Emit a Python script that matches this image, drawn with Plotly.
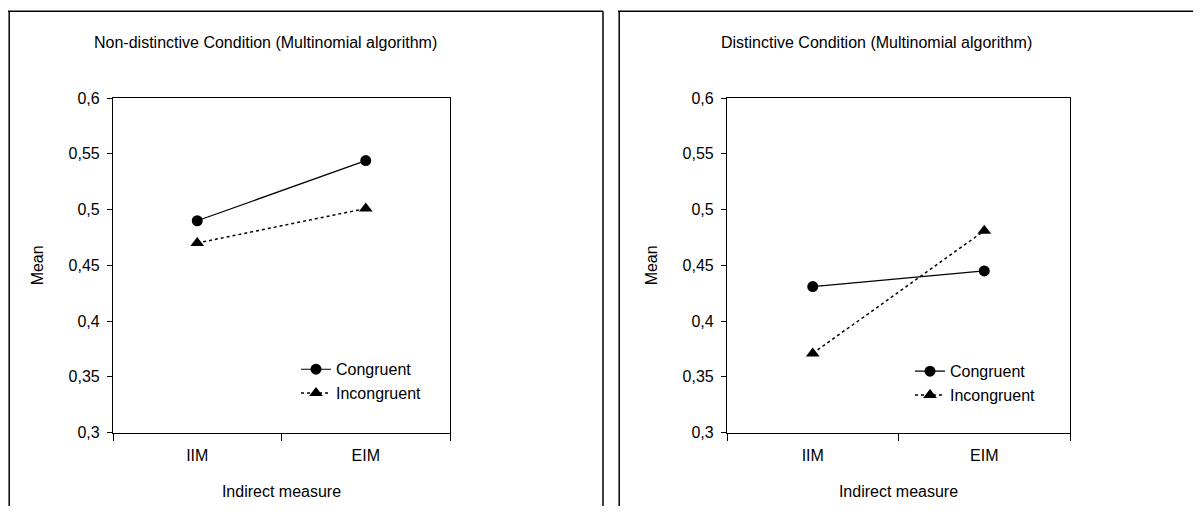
import plotly.graph_objects as go

categories = ["IIM", "EIM"]
nondistinct_congruent = [0.490, 0.544]
nondistinct_incongruent = [0.470, 0.501]
distinct_congruent = [0.431, 0.445]
distinct_incongruent = [0.371, 0.481]
y_tickvals = [0.3, 0.35, 0.4, 0.45, 0.5, 0.55, 0.6]
y_ticktext = ["0,3", "0,35", "0,4", "0,45", "0,5", "0,55", "0,6"]
titles = ["Non-distinctive Condition (Multinomial algorithm)",
          "Distinctive Condition (Multinomial algorithm)"]

OFF = 8                      # default page body margin
W, H = 1201 - OFF, 515 - OFF
FONT = "Liberation Sans, Arial, sans-serif"


def px(x):                   # page pixel -> paper fraction
    return (x - OFF) / W


def py(y):
    return 1 - (y - OFF) / H


fig = go.Figure()

panels = [
    dict(xa="x", ya="y", leg="legend", c=nondistinct_congruent, i=nondistinct_incongruent),
    dict(xa="x2", ya="y2", leg="legend2", c=distinct_congruent, i=distinct_incongruent),
]
for p in panels:
    fig.add_trace(go.Scatter(
        x=categories, y=p["c"], name="Congruent", mode="lines+markers",
        line=dict(color="black", width=1.2, dash="solid"),
        marker=dict(symbol="circle", size=11, color="black"),
        xaxis=p["xa"], yaxis=p["ya"], legend=p["leg"]))
    fig.add_trace(go.Scatter(
        x=categories, y=p["i"], name="Incongruent", mode="lines+markers",
        line=dict(color="black", width=1.5, dash="dot"),
        marker=dict(symbol="triangle-up", size=12, color="black"),
        xaxis=p["xa"], yaxis=p["ya"], legend=p["leg"]))

L = dict(x0=113, x1=450)
R = dict(x0=727, x1=1070)
Y0, Y1 = 93, 439

xcommon = dict(type="category", tickson="boundaries", ticks="outside", ticklen=7,
               tickcolor="black", showline=True, linecolor="black", linewidth=1.2,
               mirror=True, showgrid=False, zeroline=False, range=[-0.5, 1.5],
               ticklabelstandoff=8,
               tickfont=dict(family=FONT, size=16, color="black"),
               title=dict(text="Indirect measure", font=dict(family=FONT, size=16, color="black"), standoff=22))
ycommon = dict(range=[0.3, 0.6], tickvals=y_tickvals, ticktext=y_ticktext, ticks="outside",
               ticklen=5, tickcolor="black", showline=True, linecolor="black", linewidth=1.2,
               mirror=True, showgrid=False, zeroline=False, ticklabelstandoff=4,
               tickfont=dict(family=FONT, size=16, color="black"),
               title=dict(text="Mean", font=dict(family=FONT, size=16, color="black"), standoff=20))

legfont = dict(family=FONT, size=16, color="black")
fig.update_layout(
    width=W, height=H, autosize=False,
    margin=dict(l=0, r=0, t=0, b=0),
    paper_bgcolor="white", plot_bgcolor="white",
    xaxis=dict(domain=[px(L["x0"]), px(L["x1"])], anchor="y", **xcommon),
    yaxis=dict(domain=[py(Y1), py(Y0)], anchor="x", **ycommon),
    xaxis2=dict(domain=[px(R["x0"]), px(R["x1"])], anchor="y2", **xcommon),
    yaxis2=dict(domain=[py(Y1), py(Y0)], anchor="x2", **ycommon),
    legend=dict(x=px(296), y=py(356), xanchor="left", yanchor="top",
                bgcolor="rgba(0,0,0,0)", font=legfont, tracegroupgap=0, itemwidth=30),
    legend2=dict(x=px(910), y=py(358), xanchor="left", yanchor="top",
                 bgcolor="rgba(0,0,0,0)", font=legfont, tracegroupgap=0, itemwidth=30),
    showlegend=True,
)

for t, cx in zip(titles, [265, 876]):
    fig.add_annotation(text=t, x=px(cx), y=py(35), xref="paper", yref="paper",
                       showarrow=False, xanchor="center", yanchor="middle",
                       font=dict(family=FONT, size=16, color="black"))

frame = dict(type="line", xref="paper", yref="paper", line=dict(color="black", width=1.5))
TOP = 3
for x0, x1 in [(8, 603), (618, 1201)]:
    fig.add_shape(x0=px(x0), x1=px(x1), y0=py(TOP), y1=py(TOP), **frame)
    fig.add_shape(x0=px(x0) + 0.001, x1=px(x0) + 0.001, y0=py(TOP), y1=0, **frame)
fig.add_shape(x0=px(603), x1=px(603), y0=py(TOP), y1=0, **frame)

fig.write_html("out.html")
